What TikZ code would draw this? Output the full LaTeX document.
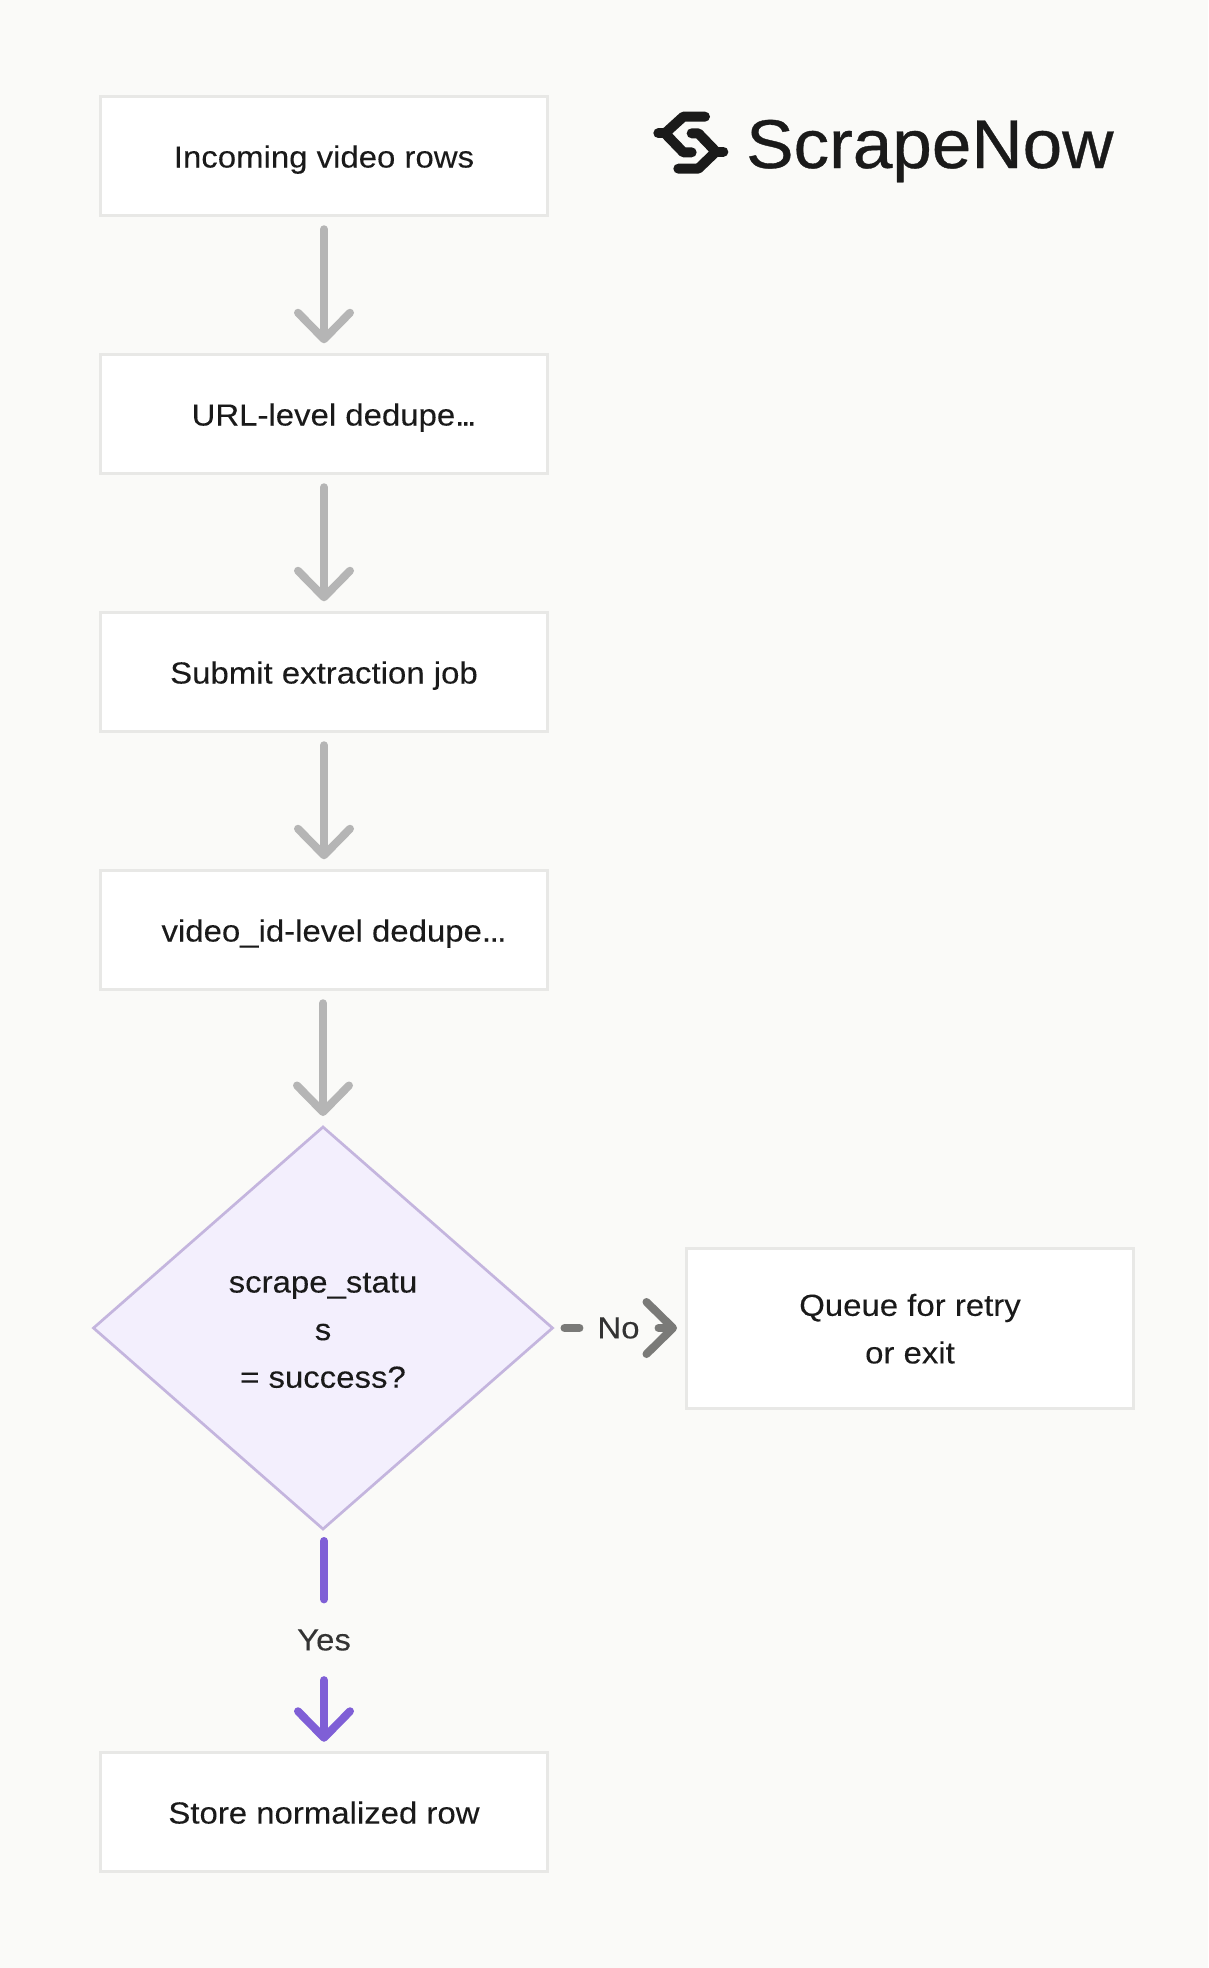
\documentclass[tikz,border=0pt]{standalone}
\usepackage{fontspec}
\setmainfont{Liberation Sans}[FakeStretch=1.08,FakeBold=0.12]
\newfontfamily\logofont{Liberation Sans}[FakeStretch=1.03,FakeBold=0.5]
\usetikzlibrary{arrows.meta,shapes.geometric}
\definecolor{bgc}{HTML}{FAFAF8}
\definecolor{boxline}{HTML}{E8E8E6}
\definecolor{ink}{HTML}{1A1A1A}
\definecolor{labelink}{HTML}{333333}
\definecolor{grayarrow}{HTML}{B5B5B5}
\definecolor{noarrow}{HTML}{7A7A78}
\definecolor{yesarrow}{HTML}{7F5FD6}
\definecolor{diafill}{HTML}{F3EFFD}
\definecolor{dialine}{HTML}{C4B5DE}
\tikzset{
  x=1pt,y=-1pt,
  boxfont/.style={font=\fontsize{30.5}{47.6}\selectfont},
  flowbox/.style={draw=boxline,fill=white,line width=3pt,minimum width=447pt,minimum height=119.5pt,inner sep=0pt,outer sep=0pt,text=ink,boxfont,align=center},
  oneline/.style={text height=23pt,text depth=0pt},
  decision/.style={shape=diamond,draw=dialine,fill=diafill,line width=2.7pt,minimum width=459pt,minimum height=402pt,inner sep=0pt,outer sep=0pt,shape aspect=1.144,text=ink,boxfont,align=center},
  edgelabel/.style={text=labelink,font=\fontsize{30.5}{36}\selectfont,inner sep=0pt,outer sep=0pt},
  barbtip/.style={-{Straight Barb[length=26.5pt,width=52pt,line cap=round,line join=round]}},
  link/.style={line width=8pt,line cap=round},
  grayflow/.style={link,draw=grayarrow,barbtip,shorten <=13.5pt,shorten >=11pt},
}
\begin{document}
\begin{tikzpicture}
\fill[bgc] (0,0) rectangle (1208,1968);
\useasboundingbox (0,0) rectangle (1208,1968);

\node[flowbox,oneline] (a) at (324,156) {Incoming video rows};
\node[flowbox,oneline] (b) at (324,414) {\hspace*{20pt}URL-level dedupe.\kern-3.2pt.\kern-3.2pt.};
\node[flowbox,oneline] (c) at (324,672) {Submit extraction job};
\node[flowbox,oneline] (d) at (324,930) {\hspace*{20pt}video\_id-level dedupe.\kern-1.5pt.\kern-1.5pt.};
\node[decision] (e) at (323,1328) {\rule{0pt}{24.5pt}scrape\_statu\\s\\= success?};
\node[flowbox,minimum width=447pt,minimum height=160pt] (q) at (910,1328) {\rule{0pt}{23.5pt}Queue for retry\\or exit};
\node[flowbox,oneline] (s) at (324,1812) {Store normalized row};
\node[edgelabel] (no) at (618.5,1328) {No};
\node[edgelabel] (yes) at (324,1640) {Yes};

\draw[grayflow] (a) -- (b);
\draw[grayflow] (b) -- (c);
\draw[grayflow] (c) -- (d);
\draw[grayflow] (d.south -| e.north) -- (e.north);
\draw[link,draw=noarrow,shorten <=12pt,shorten >=18pt] (e.east) -- (no.west);
\draw[link,draw=noarrow,barbtip,shorten <=19pt,shorten >=9.5pt] (no.east) -- (q.west);
\draw[link,draw=yesarrow,shorten <=12pt,shorten >=30pt] (e.south -| yes) -- (yes.north);
\draw[link,draw=yesarrow,barbtip,shorten <=29.5pt,shorten >=10.5pt] (yes.south) -- (s.north);

% logo
\begin{scope}[shift={(630,90)},x=0.3333pt,y=-0.3333pt,line width=10pt,draw=ink,line cap=round,line join=round]
\draw (225,80) -- (160,80) -- (105,130) -- (160,187) -- (185,187);
\draw (85,130) -- (105,130);
\draw (185,130) -- (205,130) -- (258,185) -- (205,236) -- (145,236);
\draw (258,185) -- (280,185);
\end{scope}
\node[anchor=base west,text=ink,inner sep=0pt,font=\logofont\fontsize{69}{80}\selectfont] (logo) at (746,168) {ScrapeNow};
\end{tikzpicture}
\end{document}
